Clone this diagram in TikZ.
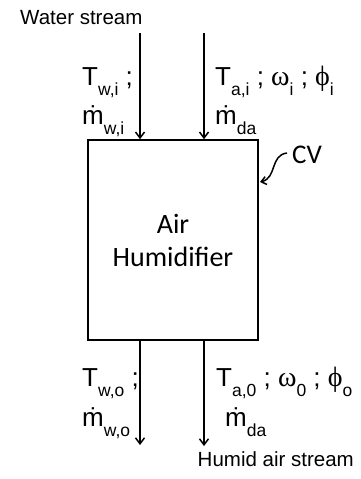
\documentclass[tikz,border=0pt]{standalone}
\usepackage{fontspec}
\setmainfont{Liberation Sans}
\newfontfamily\calib{Carlito}
\newfontfamily\grk{Liberation Serif}
\usetikzlibrary{arrows.meta}
\newcommand\lo[1]{\raisebox{-.42em}{\fontsize{17.5}{17.5}\selectfont #1}}
\newcommand\gr[1]{{\grk\fontsize{28}{28}\selectfont #1}}

\begin{document}
\begin{tikzpicture}[
  x=1pt,y=-1pt,
  lbl/.style={anchor=base west,inner sep=0pt,font=\fontsize{26}{26}\selectfont},
  streamlbl/.style={inner sep=0pt,font=\fontsize{20.5}{20.5}\selectfont},
  flow/.style={-{Straight Barb[length=6pt,width=9pt]},line width=1.5pt}
]
\useasboundingbox (0,0) rectangle (360,479);
\node[draw,line width=1.5pt,minimum width=170,minimum height=200,align=center,font=\calib\fontsize{28}{33}\selectfont] (hum) at (173,240) {Air\\Humidifier};
\coordinate (win) at (140,33); \coordinate (ain) at (204,33);
\coordinate (wout) at (140,445); \coordinate (aout) at (204,446);
\draw[flow] (win)--(win |- hum.north); \draw[flow] (ain)--(ain |- hum.north);
\draw[flow] (wout |- hum.south)--(wout); \draw[flow] (aout |- hum.south)--(aout);

\node[streamlbl,anchor=base west] (water) at (20,24) {Water stream};
\node[streamlbl,anchor=base east] (humid) at (354,466) {Humid air stream};

\node[lbl] (twi) at (82,85) {T\lo{w,i} ;};
\node[lbl] (mwi) at (82,124) {\.{m}\lo{w,i}};
\node[lbl] (tai) at (215,85) {T\lo{a,i} ; \gr{ω}\lo{i} ; \gr{ϕ}\lo{i}};
\node[lbl] (mdai) at (215,124) {\.{m}\lo{da}};
\node[lbl] (two) at (82,386) {T\lo{w,o} ;};
\node[lbl] (mwo) at (82,426) {\.{m}\lo{w,o}};
\node[lbl] (tao) at (216,386) {T\lo{a,0} ; \gr{ω}\lo{0} ; \gr{ϕ}\lo{o}};
\node[lbl] (mdao) at (225,426) {\.{m}\lo{da}};

\node[anchor=base west,inner sep=0pt,font=\calib\fontsize{27}{27}\selectfont] (cv) at (292,163) {CV};
\coordinate (cvs) at (287,153); \coordinate (cvt) at (260,182);
\draw[-{Straight Barb[length=5pt,width=8pt]},line width=1.5pt] (cvs) .. controls (270,155) and (277,178) .. (cvt);
\end{tikzpicture}
\end{document}
